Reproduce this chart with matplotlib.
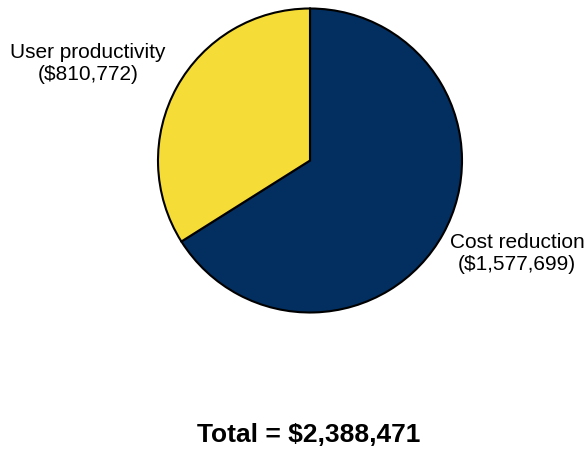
import matplotlib
matplotlib.use('Agg')
import matplotlib.pyplot as plt

categories = ['Cost reduction', 'User productivity']
values = [1577699, 810772]
colors = ['#022F60', '#F6DC37']

W, H = 588, 449
fig = plt.figure(figsize=(W / 100, H / 100), dpi=100)
ax = fig.add_axes([0, 0, 1, 1])
ax.set_aspect('equal')
ax.axis('off')

cx, cy, r = 310, H - 160.5, 152
ax.pie(values, colors=colors, startangle=90, counterclock=False,
       center=(cx, cy), radius=r,
       wedgeprops=dict(edgecolor='black', linewidth=1.5))
ax.set_xlim(0, W)
ax.set_ylim(0, H)

font = 'Liberation Sans'
label_pos = {'User productivity': (88, H - 63), 'Cost reduction': (517, H - 253)}
for cat, val in zip(categories, values):
    x, y = label_pos[cat]
    ax.text(x, y, f'{cat}\n(${val:,})', ha='center', va='center',
            fontsize=15, family=font, linespacing=1.2)

total = sum(values)
ax.text(309, H - 435, f'Total = ${total:,}', ha='center', va='center',
        fontsize=19, fontweight='bold', family=font)

fig.savefig('out.png', dpi=100)
